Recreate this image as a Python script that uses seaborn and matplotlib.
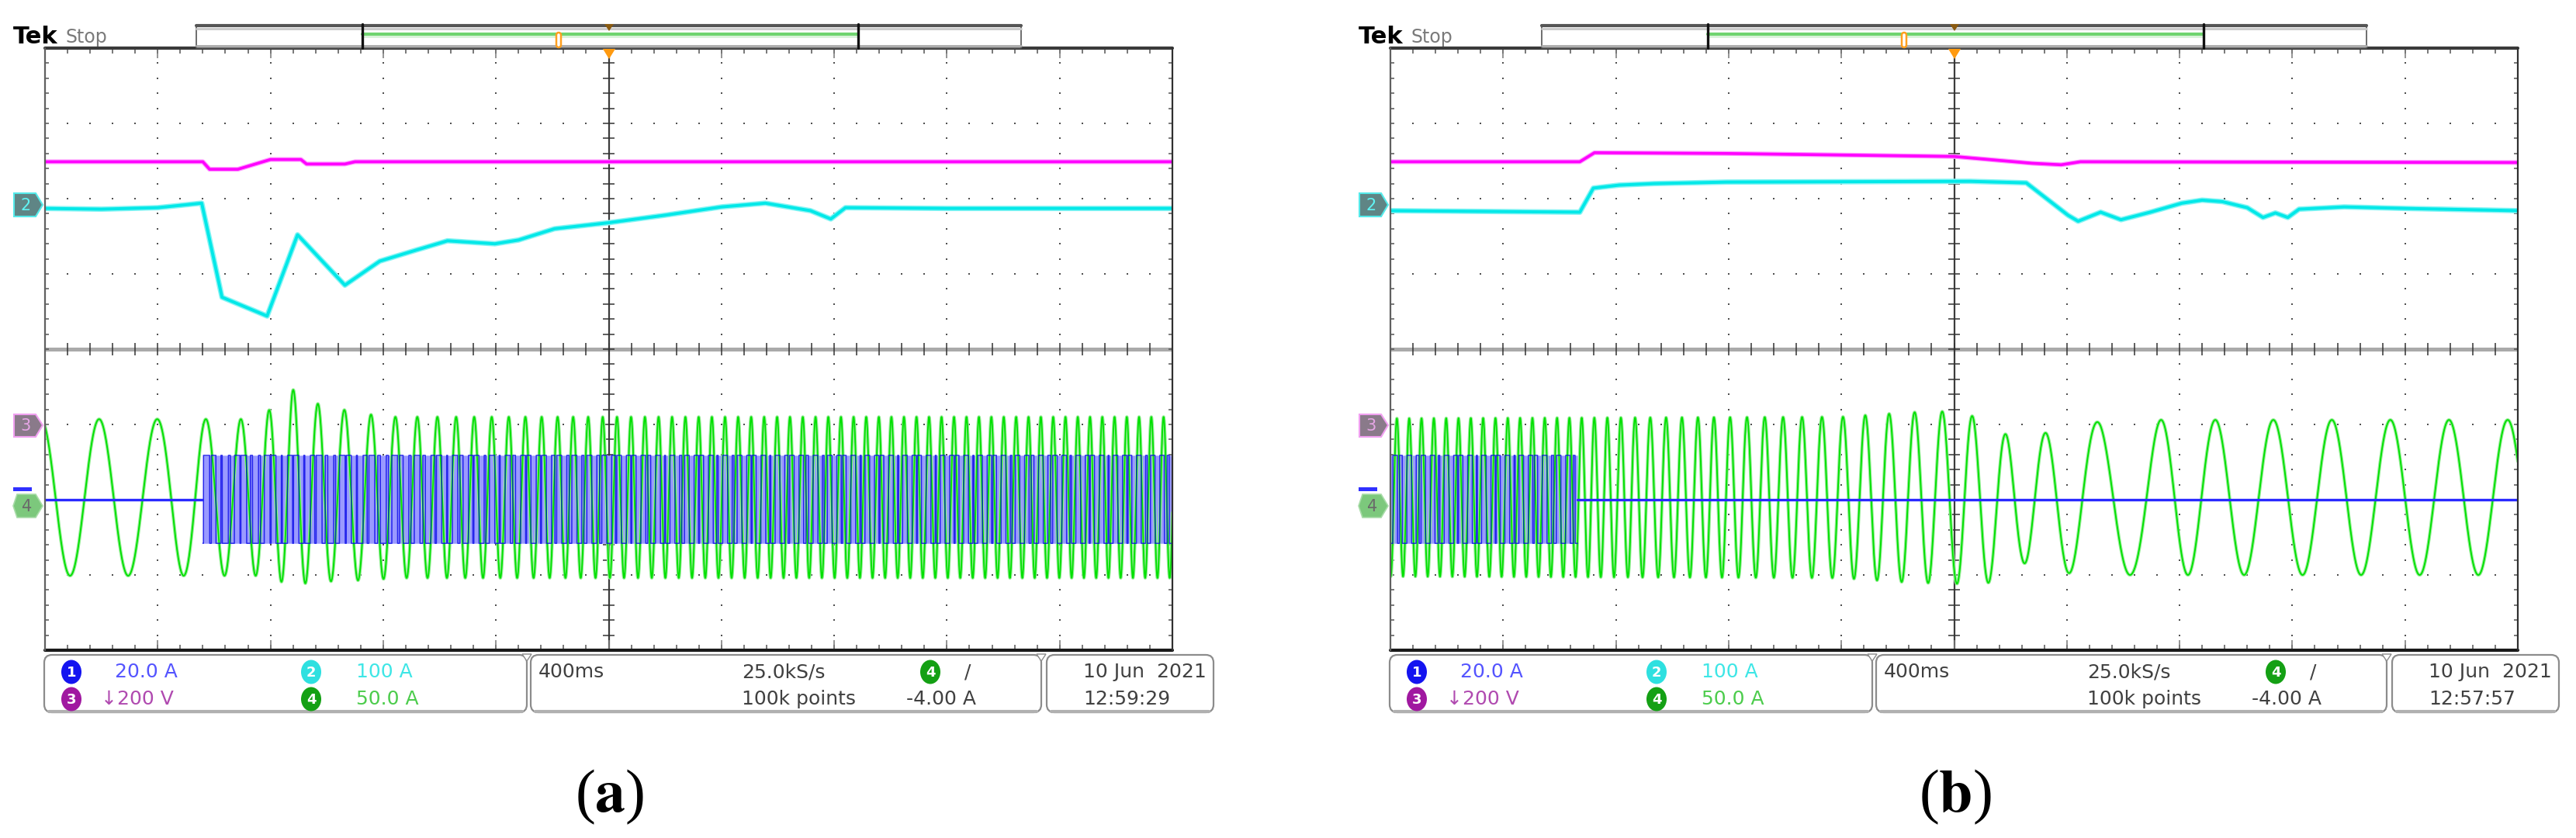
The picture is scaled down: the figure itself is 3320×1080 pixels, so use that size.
import numpy as np
import matplotlib
matplotlib.use('Agg')
import matplotlib.pyplot as plt
from matplotlib import font_manager
from matplotlib.font_manager import FontProperties
from matplotlib.patches import FancyBboxPatch, Polygon, Ellipse, Rectangle
import seaborn as sns

W, H = 3320, 1080

# ---- values read off the two scope screens (divisions: x 0..10, y -4..4) ----
# ch3 (magenta, 200 V/div)
A_CH3_X = [0, 1.40, 1.46, 1.71, 2.00, 2.27, 2.32, 2.66, 2.75, 10]
A_CH3_Y = [2.49, 2.49, 2.39, 2.39, 2.52, 2.52, 2.46, 2.46, 2.49, 2.49]
B_CH3_X = [0, 1.68, 1.81, 2.98, 5.00, 5.23, 5.69, 5.95, 6.12, 10]
B_CH3_Y = [2.49, 2.49, 2.61, 2.60, 2.56, 2.53, 2.47, 2.45, 2.49, 2.48]

# ch2 (cyan, 100 A/div)
A_CH2_X = [0, 0.5, 1.0, 1.39, 1.57, 1.97, 2.24, 2.66, 2.97, 3.3, 3.57, 3.99, 4.2,
           4.52, 5.0, 5.5, 6.0, 6.39, 6.79, 6.97, 7.1, 8.0, 9.0, 10]
A_CH2_Y = [1.87, 1.86, 1.88, 1.94, 0.69, 0.44, 1.52, 0.85, 1.17, 1.32, 1.44, 1.40, 1.45,
           1.60, 1.68, 1.78, 1.89, 1.94, 1.84, 1.73, 1.88, 1.87, 1.87, 1.87]
B_CH2_X = [0, 1.68, 1.80, 2.03, 2.34, 2.98, 5.14, 5.64, 6.01, 6.10, 6.30, 6.48, 6.74,
           7.02, 7.2, 7.38, 7.6, 7.74, 7.85, 7.96, 8.06, 8.46, 9.0, 10]
B_CH2_Y = [1.84, 1.82, 2.14, 2.18, 2.20, 2.22, 2.23, 2.21, 1.78, 1.70, 1.82, 1.72, 1.82,
           1.94, 1.98, 1.96, 1.88, 1.75, 1.81, 1.75, 1.86, 1.89, 1.87, 1.84]

# ch4 (green, 50 A/div): frequency (cycles/div), amplitude and centre read from peaks
A_F_X = [0, 1.0, 1.3, 1.5, 1.8, 2.05, 2.2, 2.4, 2.7, 3.0, 3.3, 3.6, 4.2, 4.6, 4.9, 5.6, 7.0, 9.3, 10]
A_F_Y = [1.94, 1.94, 2.45, 3.0, 3.8, 4.6, 4.8, 4.4, 4.1, 4.6, 5.4, 6.1, 6.8, 7.2, 7.8, 8.45, 8.9, 9.2, 9.2]
A_AMP_X = [0, 1.9, 2.19, 2.45, 2.75, 3.1, 10]
A_AMP_Y = [1.04, 1.04, 1.30, 1.17, 1.12, 1.07, 1.07]
A_MID_X = [0, 1.9, 2.19, 2.45, 2.9, 10]
A_MID_Y = [-1.97, -1.97, -1.83, -1.92, -1.97, -1.97]
A_PEAK = 0.48

B_F_X = [0, 1.66, 1.9, 2.15, 2.3, 2.95, 3.2, 3.6, 3.9, 4.3, 4.8, 5.05, 5.3, 5.6, 5.95,
         6.3, 6.6, 6.85, 7.1, 7.5, 10]
B_F_Y = [9.15, 9.15, 8.6, 7.8, 7.15, 7.0, 6.4, 5.9, 5.4, 4.75, 4.05, 3.7, 3.45, 2.85, 2.35,
         1.75, 1.62, 2.1, 2.1, 1.93, 1.92]
B_AMP_X = [0, 4.0, 4.6, 5.1, 5.35, 5.55, 5.85, 6.3, 10]
B_AMP_Y = [1.05, 1.07, 1.13, 1.15, 1.00, 0.85, 0.90, 1.03, 1.03]
B_MID_X = [0, 5.1, 5.35, 5.6, 6.0, 6.4, 10]
B_MID_Y = [-1.97, -1.97, -2.10, -1.98, -2.03, -1.97, -1.97]
B_PEAK = 9.91

# ch1 (blue, 20 A/div): switching band limits and where it is on
CH1_LEVEL = -2.0
CH1_TOP, CH1_BOT = -1.41, -2.58
A_CH1_ON = (1.40, 10.0)
B_CH1_ON = (0.0, 1.66)

# readouts
CH_SCALES = ['20.0 A', '100 A', '\u2193200 V', '50.0 A']
TIMEBASE = '400ms'
RATE = '25.0kS/s'
POINTS = '100k points'
TRIG = '-4.00 A'
DATE = '10 Jun  2021'
TIMES = ['12:59:29', '12:57:57']
LABELS = ['a', 'b']

PANEL_X0 = [58, 1792]
SCR_W, SCR_TOP, SCR_BOT = 1453, 62, 838


def pick_font(names):
    for n in names:
        try:
            font_manager.findfont(FontProperties(family=n), fallback_to_default=False)
            return n
        except ValueError:
            pass
    return 'DejaVu Sans'


sns.set_theme(style='white')
plt.rcParams['font.family'] = ['DejaVu Sans']
plt.rcParams['mathtext.fontset'] = 'stix'
UI_FAM = ['DejaVu Sans']
FS = 18
SERIF = pick_font(['Liberation Serif', 'DejaVu Serif'])


def green_wave(xs, fx, fy, ampx, ampy, midx, midy, peak):
    f = np.interp(xs, fx, fy)
    ph = np.concatenate([[0], np.cumsum((f[1:] + f[:-1]) / 2 * np.diff(xs))])
    ph -= np.interp(peak, xs, ph)
    return np.interp(xs, midx, midy) + np.interp(xs, ampx, ampy) * np.cos(2 * np.pi * ph), ph


def trace(ax, x, y, color, lw, halo=None, hlw=None, z=3, alpha=1.0):
    if halo:
        sns.lineplot(x=x, y=y, ax=ax, color=halo, lw=hlw, estimator=None, sort=False,
                     legend=False, zorder=z, alpha=alpha)
    sns.lineplot(x=x, y=y, ax=ax, color=color, lw=lw, estimator=None, sort=False,
                 legend=False, zorder=z + 0.1, alpha=alpha)


def draw_grid(ax):
    minor = np.round(np.arange(0.2, 10, 0.2), 3)
    vminor = np.round(np.arange(-3.8, 4, 0.2), 3)
    for yy in [-3, -2, -1, 1, 2, 3]:
        ax.scatter(minor, np.full(minor.size, yy), s=4, marker='s', color='#505050',
                   lw=0, zorder=1)
    for xx in [1, 2, 3, 4, 6, 7, 8, 9]:
        ax.scatter(np.full(vminor.size, xx), vminor, s=4, marker='s', color='#505050',
                   lw=0, zorder=1)
    # centre cross
    ax.axhline(0, color='#aaaaaa', lw=3.6, zorder=1.5)
    ax.vlines(minor, -0.08, 0.08, color='#333333', lw=1.1, zorder=1.6)
    ax.axvline(5, color='#3c3c3c', lw=1.6, zorder=1.5)
    ax.hlines(vminor, 4.95, 5.05, color='#333333', lw=1.1, zorder=1.6)
    # edge ticks
    ax.vlines(minor, 3.93, 4, color='#555555', lw=1.1, zorder=1.6)
    ax.vlines(minor, -4, -3.93, color='#555555', lw=1.1, zorder=1.6)
    ax.vlines(np.arange(1, 10), 3.87, 4, color='#777777', lw=1.1, zorder=1.6)
    ax.vlines(np.arange(1, 10), -4, -3.87, color='#777777', lw=1.1, zorder=1.6)
    ax.hlines(vminor, 0, 0.035, color='#555555', lw=1.1, zorder=1.6)
    ax.hlines(vminor, 9.965, 10, color='#555555', lw=1.1, zorder=1.6)
    # frame
    ax.axhline(4, color='#3a3a3a', lw=3, zorder=6, clip_on=False)
    ax.axhline(-4, color='#1a1a1a', lw=3, zorder=6, clip_on=False)
    ax.axvline(0, color='#606060', lw=1.6, zorder=6, clip_on=False)
    ax.axvline(10, color='#303030', lw=1.6, zorder=6, clip_on=False)


fig = plt.figure(figsize=(W / 100, H / 100), dpi=100)
fig.patch.set_facecolor('white')

panels = [
    dict(ch3=(A_CH3_X, A_CH3_Y), ch2=(A_CH2_X, A_CH2_Y),
         f=(A_F_X, A_F_Y), amp=(A_AMP_X, A_AMP_Y), mid=(A_MID_X, A_MID_Y), peak=A_PEAK,
         on=A_CH1_ON),
    dict(ch3=(B_CH3_X, B_CH3_Y), ch2=(B_CH2_X, B_CH2_Y),
         f=(B_F_X, B_F_Y), amp=(B_AMP_X, B_AMP_Y), mid=(B_MID_X, B_MID_Y), peak=B_PEAK,
         on=B_CH1_ON),
]

for p, x0 in zip(panels, PANEL_X0):
    ax = fig.add_axes([x0 / W, (H - SCR_BOT) / H, SCR_W / W, (SCR_BOT - SCR_TOP) / H])
    ax.set_xlim(0, 10)
    ax.set_ylim(-4, 4)
    ax.set_axis_off()
    draw_grid(ax)

    trace(ax, np.array(p['ch3'][0]), np.array(p['ch3'][1]), '#ff00ff', 2.6, '#ff99ff', 4.4)
    trace(ax, np.array(p['ch2'][0]), np.array(p['ch2'][1]), '#00e8e8', 2.8, '#86f4f4', 5.0)

    xs = np.linspace(0, 10, 40001)
    g, ph = green_wave(xs, *p['f'], *p['amp'], *p['mid'], p['peak'])

    lo, hi = p['on']
    band = (xs >= lo) & (xs <= hi)
    xb = xs[band]
    tri = 2 * np.abs(2 * ((xb * 15.0) % 1) - 1) - 1
    pwm = np.where(0.75 * np.cos(2 * np.pi * ph[band]) > tri, CH1_TOP, CH1_BOT)
    # switching band of ch1 behind, green current, then the switching edges on top
    ax.fill_between(xb, CH1_BOT, CH1_TOP, color='#9a9aff', lw=0, zorder=3)
    trace(ax, xs, g, '#00e000', 1.3, '#94ee94', 3.0, z=3.5)
    sns.lineplot(x=xb, y=pwm, ax=ax, color='#0000e6', lw=1.1, alpha=0.75, estimator=None,
                 sort=False, legend=False, zorder=4.1)
    for seg in [(0, lo), (hi, 10)]:
        if seg[1] - seg[0] > 0.01:
            sns.lineplot(x=list(seg), y=[CH1_LEVEL, CH1_LEVEL], ax=ax, color='#2a2aff',
                         lw=2.4, estimator=None, legend=False, zorder=4.2)

# ---- overlay in pixel coordinates for the scope furniture ----
ov = fig.add_axes([0, 0, 1, 1], zorder=10)
ov.set_xlim(0, W)
ov.set_ylim(H, 0)
ov.axis('off')
ov.patch.set_visible(False)


def poly(pts, fc, ec='none', lw=1.0, z=5):
    ov.add_patch(Polygon(pts, closed=True, fc=fc, ec=ec, lw=lw, zorder=z))


def oval(cx, cy, color, txt):
    ov.add_patch(Ellipse((cx, cy), 26, 31, fc=color, ec='none', zorder=5))
    ov.text(cx, cy + 1, txt, color='white', fontsize=FS - 5, ha='center', va='center',
            family=UI_FAM, fontweight='bold', zorder=6)


for i, x0 in enumerate(PANEL_X0):
    # header
    ov.text(x0 - 41, 47, 'Tek', fontsize=FS + 4, fontweight='bold',
            color='black', family=UI_FAM, ha='left', va='center')
    ov.text(x0 + 26, 48, 'Stop', fontsize=FS - 1, color='#7a7a7a', family=UI_FAM,
            ha='left', va='center')
    ov.add_patch(Rectangle((x0 + 195, 32), 1063, 30, fc='white', ec='#555555', lw=1.2, zorder=3))
    ov.plot([x0 + 195, x0 + 1258], [33, 33], color='#555555', lw=3, zorder=4)
    ov.plot([x0 + 195, x0 + 1258], [36.5, 36.5], color='#c8c8c8', lw=2, zorder=4)
    ov.plot([x0 + 195, x0 + 1258], [59, 59], color='#aaaaaa', lw=2, zorder=4)
    ov.plot([x0 + 409, x0 + 1048], [43.5, 43.5], color='#6fd46f', lw=3, zorder=4)
    ov.plot([x0 + 409, x0 + 1048], [46.5, 46.5], color='#d8f2d8', lw=2, zorder=4)
    for xx in (x0 + 409, x0 + 1048):
        ov.plot([xx, xx], [31, 62], color='#111111', lw=2.4, zorder=5)
    ov.add_patch(FancyBboxPatch((x0 + 659, 42), 6, 19, boxstyle='round,pad=0,rounding_size=3',
                                fc='white', ec='#ffa020', lw=1.8, zorder=6))
    poly([(x0 + 721, 31), (x0 + 733, 31), (x0 + 727, 40)], '#8a5a10', z=6)
    poly([(x0 + 719, 63), (x0 + 735, 63), (x0 + 727, 76)], '#ff9a10', z=12)

    # channel markers at the left edge
    mk = dict(fontsize=FS - 3, ha='center', va='center', family=UI_FAM, zorder=7)
    poly([(x0 - 40, 249), (x0 - 12, 249), (x0 - 3, 264), (x0 - 12, 279), (x0 - 40, 279)],
         '#5f8585', '#55eaea', 1.5)
    ov.text(x0 - 25, 265, '2', color='#60f4f4', **mk)
    poly([(x0 - 40, 534), (x0 - 12, 534), (x0 - 3, 548), (x0 - 12, 563), (x0 - 40, 563)],
         '#8a7a8a', '#f0a0f0', 1.5)
    ov.text(x0 - 25, 549, '3', color='#e6a6e6', **mk)
    ov.add_patch(Rectangle((x0 - 41, 628), 24, 5, fc='#3030ff', ec='none', zorder=5))
    poly([(x0 - 41, 652), (x0 - 36, 637), (x0 - 12, 637), (x0 - 3, 652), (x0 - 12, 667),
          (x0 - 36, 667)], '#7cc87c', '#a8dca8', 1.2)
    ov.text(x0 - 23, 653, '4', color='#6a6a6a', **mk)

    # readout boxes
    for bx0, bx1 in [(x0 - 1, x0 + 621), (x0 + 626, x0 + 1284), (x0 + 1291, x0 + 1506)]:
        ov.add_patch(FancyBboxPatch((bx0, 844), bx1 - bx0, 74,
                                    boxstyle='round,pad=0,rounding_size=10',
                                    fc='white', ec='#8c8c8c', lw=1.6, zorder=3))
        ov.plot([bx0 + 6, bx1 - 6], [917, 917], color='#b0b0b0', lw=3, zorder=4)
    for nx in (x0 + 621, x0 + 1284):
        poly([(nx - 6, 843), (nx + 6, 843), (nx, 852)], 'white', '#8c8c8c', 1.0, z=6)

    r1, r2 = 866, 901
    oval(x0 + 34, r1, '#1414f0', '1')
    oval(x0 + 343, r1, '#2ee0e0', '2')
    oval(x0 + 34, r2, '#a018a0', '3')
    oval(x0 + 343, r2, '#14a014', '4')
    oval(x0 + 1141, r1, '#14a014', '4')
    txt = dict(fontsize=FS, family=UI_FAM, va='center', ha='left', zorder=6)
    ov.text(x0 + 90, r1, CH_SCALES[0], color='#5454ff', **txt)
    ov.text(x0 + 401, r1, CH_SCALES[1], color='#3ee6e6', **txt)
    ov.text(x0 + 72, r2, CH_SCALES[2], color='#b04ab0', **txt)
    ov.text(x0 + 401, r2, CH_SCALES[3], color='#4ccc4c', **txt)
    ov.text(x0 + 636, r1, TIMEBASE, color='#404040', **txt)
    ov.text(x0 + 898, r1, RATE, color='#404040', **txt)
    ov.text(x0 + 898, r2, POINTS, color='#404040', **txt)
    ov.text(x0 + 1185, r1, '/', color='#404040', **txt)
    ov.text(x0 + 1110, r2, TRIG, color='#404040', **txt)
    ov.text(x0 + 1338, r1, DATE, color='#404040', **txt)
    ov.text(x0 + 1338, r2, TIMES[i], color='#404040', **txt)

    # sub-figure label
    ov.text(x0 + 728, 1027, r'($\mathbf{' + LABELS[i] + r'}$)', fontsize=56, family=SERIF,
            color='black', ha='center', va='center')

fig.savefig('out.png', dpi=100, facecolor='white')
